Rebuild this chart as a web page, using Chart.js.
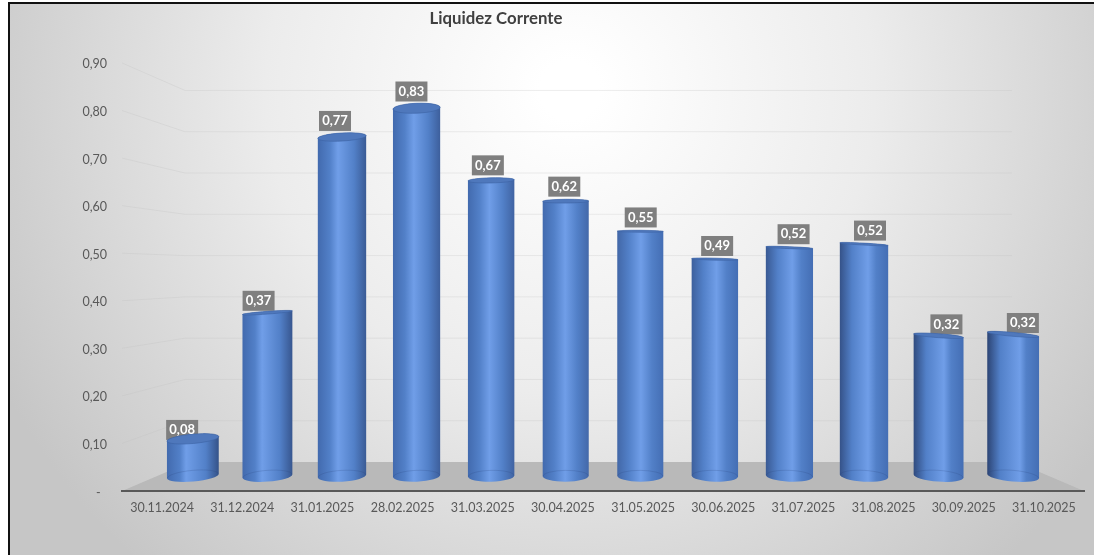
<!DOCTYPE html>
<html lang="pt">
<head>
<meta charset="utf-8">
<title>Liquidez Corrente</title>
<script src="https://cdn.jsdelivr.net/npm/chart.js@4"></script>
<style>
    html, body { margin: 0; padding: 0; background: #fff; }
    #wrap { width: 1094px; height: 555px; }
</style>
</head>
<body>
<div id="wrap"><canvas id="graficoLiquidez"></canvas></div>
<script>
const datas = ['30.11.2024', '31.12.2024', '31.01.2025', '28.02.2025', '31.03.2025', '30.04.2025',
    '31.05.2025', '30.06.2025', '31.07.2025', '31.08.2025', '30.09.2025', '31.10.2025'];
const liquidez = [0.084, 0.369, 0.766, 0.831, 0.668, 0.621, 0.553, 0.49, 0.516, 0.524, 0.317, 0.32];
const ticksY = [0, 0.1, 0.2, 0.3, 0.4, 0.5, 0.6, 0.7, 0.8, 0.9];

const fonte = 'Lato';
// o zero aparece como um traco afastado da margem, como no formato do Excel
const formatar = v => v === 0 ? '-  ' : v.toFixed(2).replace('.', ',');

function mistura(a, b, t) {
    const c = a.map((v, i) => Math.round(v + (b[i] - v) * t));
    return `rgb(${c[0]},${c[1]},${c[2]})`;
}

function desenharFundo(chart) {
    const { ctx, width, height, chartArea: area, scales } = chart;
    ctx.save();
    const g = ctx.createRadialGradient(570, 90, 30, 570, 90, 640);
    g.addColorStop(0, '#ffffff');
    g.addColorStop(0.45, '#ececec');
    g.addColorStop(1, '#c6c6c6');
    ctx.fillStyle = g;
    ctx.fillRect(9, 3, width - 9, height - 3);

    // moldura preta (so em cima e a esquerda)
    ctx.fillStyle = '#111';
    ctx.fillRect(8, 2, width - 8, 2);
    ctx.fillRect(8, 2, 2, height - 2);

    // grelha com a dobra entre a parede e o chao
    const recuo = 63;
    const fundoY = scales.yFundo;
    ctx.strokeStyle = 'rgba(190,190,190,0.28)';
    ctx.lineWidth = 1;
    ticksY.slice(1).forEach(v => {
        ctx.beginPath();
        ctx.moveTo(area.left, scales.y.getPixelForValue(v));
        ctx.lineTo(area.left + recuo, fundoY.getPixelForValue(v));
        ctx.lineTo(area.right - 72, fundoY.getPixelForValue(v));
        ctx.stroke();
    });

    // chao
    ctx.fillStyle = '#b9b9b9';
    ctx.beginPath();
    ctx.moveTo(area.left, area.bottom);
    ctx.lineTo(area.left + 68, fundoY.getPixelForValue(0));
    ctx.lineTo(area.right - 68, fundoY.getPixelForValue(0));
    ctx.lineTo(area.right, area.bottom);
    ctx.closePath();
    ctx.fill();
    ctx.restore();
}

function posicaoEtiqueta(chart, v, i) {
    return {
        x: chart.scales.xEtiquetas.getPixelForValue(i),
        y: chart.scales.yEtiquetas.getPixelForValue(v)
    };
}

function desenharCaixas(chart) {
    const { ctx } = chart;
    ctx.save();
    ctx.fillStyle = '#7f7f7f';
    liquidez.forEach((v, i) => {
        const { x, y } = posicaoEtiqueta(chart, v, i);
        ctx.fillRect(x - 16, y - 10, 32, 20);
    });
    ctx.restore();
}

function desenharTextos(chart) {
    const { ctx } = chart;
    ctx.save();
    ctx.font = `bold 13px ${fonte}`;
    ctx.textAlign = 'center';
    ctx.textBaseline = 'middle';
    ctx.fillStyle = '#fff';
    liquidez.forEach((v, i) => {
        const { x, y } = posicaoEtiqueta(chart, v, i);
        ctx.fillText(formatar(v), x, y);
    });
    ctx.restore();
}

function desenharCilindro(chart, bar) {
    const { ctx, scales } = chart;
    const t = (bar.x - 603) / 410;
    const r = (bar.width + 6 * t * t) / 2;
    const olho = scales.yBarras.getPixelForValue(0.49);
    const ryTopo = Math.max(1, Math.abs(bar.y - olho) * (bar.y < olho ? 0.033 : 0.026));
    const ryBase = Math.abs(bar.base - olho) * 0.026;
    const giro = t * 0.09;

    const esq = t > 0 ? mistura([68, 106, 172], [44, 68, 116], t) : 'rgb(66,106,174)';
    const dir = t < 0 ? mistura([68, 106, 172], [52, 82, 136], -t) : 'rgb(68,110,180)';
    const brilho = 0.5 + t * 0.13;
    const g = ctx.createLinearGradient(bar.x - r, 0, bar.x + r, 0);
    g.addColorStop(0, esq);
    g.addColorStop(0.25, 'rgb(82,128,200)');
    g.addColorStop(brilho, 'rgb(112,158,232)');
    g.addColorStop(0.75, 'rgb(82,128,200)');
    g.addColorStop(1, dir);

    ctx.save();
    ctx.fillStyle = g;
    ctx.beginPath();
    ctx.ellipse(bar.x, bar.base, r, ryBase, giro, 0, Math.PI);
    ctx.ellipse(bar.x, bar.y, r, ryTopo, giro, Math.PI, 0);
    ctx.closePath();
    ctx.fill();

    // aro de baixo, visto atraves do cilindro
    ctx.strokeStyle = 'rgba(38,66,120,0.2)';
    ctx.lineWidth = 1;
    ctx.beginPath();
    ctx.ellipse(bar.x, bar.base, r - 0.5, ryBase, giro, Math.PI, 0);
    ctx.stroke();

    // tampa
    ctx.fillStyle = '#4f78bc';
    ctx.strokeStyle = 'rgba(60,98,164,0.6)';
    ctx.beginPath();
    ctx.ellipse(bar.x, bar.y, r, ryTopo, giro, 0, Math.PI * 2);
    ctx.fill();
    ctx.stroke();
    ctx.restore();
}

const pluginCilindros = {
    id: 'cilindros',
    beforeDraw: desenharFundo,
    afterLayout(chart) {
        // o titulo nao esta centrado no grafico
        chart.titleBlock.left = 0;
        chart.titleBlock.right = 992;
    },
    beforeDatasetDraw(chart, args) {
        desenharCaixas(chart);
        args.meta.data.forEach(bar => desenharCilindro(chart, bar));
        desenharTextos(chart);
        return false;
    }
};

function escalaOculta(min, max) {
    return { type: 'linear', display: false, offset: false, min, max };
}

new Chart(document.getElementById('graficoLiquidez'), {
    type: 'bar',
    data: {
        labels: datas,
        datasets: [{
            label: 'Liquidez Corrente',
            data: liquidez.map((v, i) => ({ x: i, y: v })),
            xAxisID: 'xBarras',
            yAxisID: 'yBarras',
            backgroundColor: '#4a78c4',
            barThickness: 46
        }]
    },
    plugins: [pluginCilindros],
    options: {
        responsive: true,
        maintainAspectRatio: false,
        animation: false,
        layout: { padding: { left: 0, right: 10, top: 0, bottom: 0 } },
        plugins: {
            legend: { display: false },
            tooltip: { enabled: false },
            title: {
                display: true,
                text: 'Liquidez Corrente',
                color: '#404040',
                font: { family: fonte, size: 16.8, weight: 'bold' },
                padding: { top: 9, bottom: 33.8 }
            }
        },
        scales: {
            x: {
                type: 'category',
                labels: datas,
                offset: true,
                grid: { display: false },
                border: { color: '#595959', width: 2 },
                ticks: {
                    color: '#595959',
                    font: { family: fonte, size: 12.5 },
                    autoSkip: false,
                    maxRotation: 0,
                    padding: 1
                },
                afterFit: s => { s.height = 64; }
            },
            y: {
                type: 'linear',
                min: 0,
                max: 0.9,
                grid: { display: false },
                border: { display: false },
                afterBuildTicks: s => { s.ticks = ticksY.map(value => ({ value })); },
                ticks: {
                    color: '#595959',
                    font: { family: fonte, size: 12.5 },
                    padding: 7,
                    labelOffset: 1.5,
                    callback: v => formatar(v)
                },
                afterFit: s => { s.width = 122; }
            },
            xBarras: escalaOculta(-0.95, 11.95),
            yBarras: escalaOculta(-0.0339, 0.9333),
            yFundo: escalaOculta(-0.0702, 0.9666),
            xEtiquetas: escalaOculta(-0.787, 11.8),
            yEtiquetas: escalaOculta(-0.0508, 0.894)
        }
    }
});
</script>
</body>
</html>
